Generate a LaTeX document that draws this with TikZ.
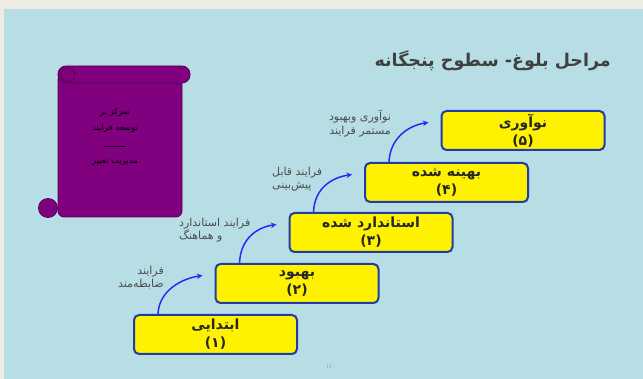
\documentclass[tikz,border=0pt]{standalone}
\usepackage{fontspec}
\usepackage{tikz}
\usetikzlibrary{calc}
\newfontfamily\farsi[Script=Arabic]{DejaVu Sans}
\TeXXeTstate=1
\newcommand{\fatxt}[1]{\beginR #1\endR}

\definecolor{pagebg}{RGB}{238,235,229}
\definecolor{slideblue}{RGB}{184,222,229}
\definecolor{stageborder}{RGB}{35,60,165}
\definecolor{climbblue}{RGB}{40,40,250}
\definecolor{scrollfill}{RGB}{128,0,128}
\definecolor{scrollline}{RGB}{80,0,80}

\tikzset{
	stage/.style={draw=stageborder, fill=yellow, line width=2pt, rounded corners=5pt,
		minimum width=163pt, minimum height=39pt, inner sep=0pt, align=center,
		font=\farsi\bfseries\fontsize{14}{18}\selectfont, text=black!85},
	steplabel/.style={inner sep=0pt, font=\farsi\fontsize{11}{13.5}\selectfont, text=black!70},
	climb/.style={draw=climbblue, line width=1.5pt, ->, >=stealth},
	scroll/.style={fill=scrollfill, draw=scrollline, line width=0.8pt},
}

\begin{document}
\begin{tikzpicture}[x=1pt,y=-1pt]
			\fill[pagebg] (0,0) rectangle (643,379);
			\fill[slideblue] (4,9) rectangle (643,379);
			
			\node[anchor=east, inner sep=0pt, font=\farsi\bfseries\fontsize{17.5}{20}\selectfont, text=black!75] (title) at (611,61){\fatxt{مراحل بلوغ- سطوح پنجگانه}};
			
			\filldraw[scroll, rounded corners=6pt] (58,74) rectangle (182,217);
			\filldraw[scroll] (48,208) circle(9.5);
			\filldraw[scroll, rounded corners=8pt] (58,66) rectangle (190,83);
			\draw[scrollline, line width=0.8pt] (68,75) circle(7);
			\node[inner sep=0pt, align=center, font=\farsi\fontsize{8.5}{16.5}\selectfont, text=black] (focus) at (115,137){\fatxt{تمرکز بر}\\\fatxt{توسعه فرایند}\\\fatxt{ـــــــــ}\\\fatxt{مدیریت تغییر}};
			
			\node[stage] (s1) at (215.5,334.5){\fatxt{ابتدایی}\\(۱)};
			\node[stage] (s2) at (297,283.5){\fatxt{بهبود}\\(۲)};
			\node[stage] (s3) at (371,232.5){\fatxt{استاندارد شده}\\(۳)};
			\node[stage] (s4) at (446.5,182.5){\fatxt{بهینه شده}\\(۴)};
			\node[stage] (s5) at (523,130.5){\fatxt{نوآوری}\\(۵)};
			
			\foreach \a/\b in {s1/s2, s2/s3, s3/s4, s4/s5}
				\draw[climb] ($(\a.north west)+(25,0)$) .. controls +(1,-24) and +(-20,3) .. ($(\b.west)+(-12,-8)$);
			
			\node[steplabel, anchor=east, align=right] (l1) at (164,277.5){\fatxt{فرایند}\\\fatxt{ضابطه‌مند}};
			\node[steplabel, anchor=west, align=left] (l2) at (179,230){\fatxt{فرایند استاندارد}\\\fatxt{و هماهنگ}};
			\node[steplabel, anchor=west, align=left] (l3) at (272,179){\fatxt{فرایند قابل}\\\fatxt{پیش‌بینی}};
			\node[steplabel, align=center] (l4) at (360,123.5){\fatxt{نوآوری وبهبود}\\\fatxt{مستمر فرایند}};
			
			\node[inner sep=0pt, font=\farsi\fontsize{5}{6}\selectfont, text=black!45] (page) at (329,367){۱۶};
\end{tikzpicture}
\end{document}
